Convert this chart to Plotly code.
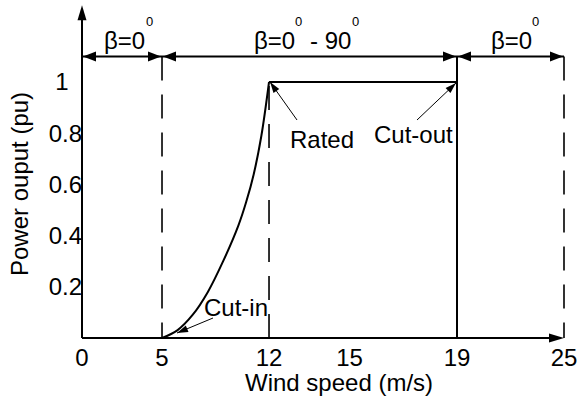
import numpy as np
import plotly.graph_objects as go

# ---------------- data ----------------
# Power curve of the turbine (pu) against wind speed (m/s)
WIND_SPEED = [5, 6, 7, 8, 9, 10, 10.5, 11, 11.5, 12, 19, 19]
POWER_PU = [0, 0.03, 0.09, 0.18, 0.30, 0.44, 0.53, 0.64, 0.79, 1, 1, 0]

CUT_IN, RATED, CUT_OUT, MAX_SPEED = 5, 12, 19, 25

X_TICKS = [0, 5, 12, 15, 19, 25]
Y_TICKS = [0.2, 0.4, 0.6, 0.8, 1]

# pitch-angle regions along the top of the chart
REGION_BOUNDS = [(0, 5), (5, 19), (19, 25)]
REGION_LABELS = [
    [("β=0", False), ("0", True)],
    [("β=0", False), ("0", True), ("- 90", False), ("0", True)],
    [("β=0", False), ("0", True)],
]

# ---------------- schematic (non-uniform) wind-speed axis ----------------
SPEED_KNOTS = [0, 5, 12, 19, 25]
AXIS_KNOTS = [0, 4.15, 9.70, 19.45, 25]


def to_axis(v):
    return np.interp(v, SPEED_KNOTS, AXIS_KNOTS)


# ---------------- page geometry ----------------
W, H = 579, 402
ML, MR, MT, MB = 30, 8, 0, 40
ORIGIN_PX = (82, 338)            # where (0 m/s, 0 pu) sits on the page
PX_PER_U = 482 / 25
PX_PER_PU = 256.0
PLOT_W, PLOT_H = W - ML - MR, H - MT - MB

x_lo = -(ORIGIN_PX[0] - ML) / PX_PER_U
x_hi = x_lo + PLOT_W / PX_PER_U
y_lo = -(H - MB - ORIGIN_PX[1]) / PX_PER_PU
y_hi = y_lo + PLOT_H / PX_PER_PU


def paper_x(px):
    return (px - ML) / PLOT_W


def paper_y(py):
    return (H - MB - py) / PLOT_H


DIM_LEVEL = 1.10      # height of the pitch-region dimension arrows (pu)
Y_ARROW_TOP = 1.30    # tip of the power axis arrow (pu)

FONT = "Liberation Sans, Arial, sans-serif"
INK = "black"

fig = go.Figure()

# power curve: ramp between cut-in and rated, then flat until cut-out
ramp_end = WIND_SPEED.index(RATED) + 1
fig.add_trace(go.Scatter(
    x=to_axis(WIND_SPEED[:ramp_end]), y=POWER_PU[:ramp_end],
    mode="lines", line=dict(color=INK, width=2, shape="spline", smoothing=1),
    hoverinfo="skip", showlegend=False))
fig.add_trace(go.Scatter(
    x=to_axis(WIND_SPEED[ramp_end - 1:]), y=POWER_PU[ramp_end - 1:],
    mode="lines", line=dict(color=INK, width=2),
    hoverinfo="skip", showlegend=False))

shapes = []
annotations = []


def head(xa, ya, ang_deg, L, Wd, ox=0.0, oy=0.0):
    """Filled triangular arrow head, sized in pixels, tip at (ox, oy) from the anchor."""
    a = np.radians(ang_deg)
    d = np.array([np.cos(a), np.sin(a)])
    n = np.array([-d[1], d[0]])
    tip = np.array([ox, oy])
    base = tip - L * d
    p1, p2 = base + Wd / 2 * n, base - Wd / 2 * n
    path = (f"M{tip[0]:.2f},{tip[1]:.2f} L{p1[0]:.2f},{p1[1]:.2f} "
            f"L{p2[0]:.2f},{p2[1]:.2f} Z")
    return dict(type="path", xref="x", yref="y", xsizemode="pixel",
                ysizemode="pixel", xanchor=xa, yanchor=ya, path=path,
                fillcolor=INK, line=dict(width=0), layer="above")


def seg(x0, y0, x1, y1, width=2, dash=None):
    return dict(type="line", xref="x", yref="y", x0=x0, y0=y0, x1=x1, y1=y1,
                line=dict(color=INK, width=width, dash=dash), layer="above")


def pointer(xa, ya, tip, tail, L=11, Wd=7):
    """Thin leader arrow, offsets in pixels (y upward) from a data anchor."""
    ang = np.degrees(np.arctan2(tip[1] - tail[1], tip[0] - tail[0]))
    shapes.append(dict(type="line", xref="x", yref="y", xsizemode="pixel",
                       ysizemode="pixel", xanchor=xa, yanchor=ya,
                       x0=tail[0], y0=tail[1], x1=tip[0], y1=tip[1],
                       line=dict(color=INK, width=1), layer="above"))
    shapes.append(head(xa, ya, ang, L, Wd, tip[0], tip[1]))


# axes drawn as arrows
x_end = float(to_axis(MAX_SPEED))
shapes.append(seg(0, 0, x_end - 6 / PX_PER_U, 0))
shapes.append(head(x_end, 0, 0, 15, 9))
shapes.append(seg(0, 0, 0, Y_ARROW_TOP - 6 / PX_PER_PU))
shapes.append(head(0, Y_ARROW_TOP, 90, 15, 9))

# region boundaries
DASH = "24px,14px"
shapes.append(seg(to_axis(CUT_IN), DIM_LEVEL, to_axis(CUT_IN), 0, 1.6, DASH))
shapes.append(seg(to_axis(RATED), 0, to_axis(RATED), 1, 1.6, DASH))
shapes.append(seg(to_axis(CUT_OUT), DIM_LEVEL, to_axis(CUT_OUT), 1, 2))
shapes.append(seg(to_axis(MAX_SPEED), DIM_LEVEL, to_axis(MAX_SPEED), 0, 1.6, DASH))

# pitch-region dimension arrows and their labels
CHAR_EM = {"β": 0.569, "=": 0.584, "-": 0.333, " ": 0.278}
BASE_SIZE, SUP_SIZE = 24, 13
LABEL_NUDGE = [6, -4, 4]


def text_width(s, size):
    return sum(CHAR_EM.get(c, 0.556) for c in s) * size


for (a, b), pieces, nudge in zip(REGION_BOUNDS, REGION_LABELS, LABEL_NUDGE):
    xa, xb = float(to_axis(a)), float(to_axis(b))
    shapes.append(seg(xa, DIM_LEVEL, xb, DIM_LEVEL))
    shapes.append(head(xa, DIM_LEVEL, 180, 13, 10, ox=1))
    shapes.append(head(xb, DIM_LEVEL, 0, 13, 10, ox=-1))

    widths = [text_width(t, SUP_SIZE if sup else BASE_SIZE) + (1 if sup else 0)
              for t, sup in pieces]
    # a space separates a superscript from following base text
    gaps = [0.278 * BASE_SIZE if (i > 0 and pieces[i - 1][1] and not sup) else 0
            for i, (t, sup) in enumerate(pieces)]
    total = sum(widths) + sum(gaps)
    cursor = -total / 2 + nudge
    xm = (xa + xb) / 2
    for (t, sup), w, g in zip(pieces, widths, gaps):
        cursor += g
        annotations.append(dict(
            x=xm, y=DIM_LEVEL, xref="x", yref="y", text=t, showarrow=False,
            xanchor="left", yanchor="middle", borderpad=0,
            xshift=cursor + (0.5 if sup else 0), yshift=35 if sup else 16,
            font=dict(family=FONT, size=SUP_SIZE if sup else BASE_SIZE, color=INK)))
        cursor += w

# callouts
for label, (sx, sy), (tx, ty), (xs, ys) in [
    ("Rated", (RATED, 1), (53, -57), ((1, 0), (28, -38))),
    ("Cut-out", (CUT_OUT, 1), (-44, -52), ((-1, -1), (-40, -38))),
    ("Cut-in", (CUT_IN, 0), (74, 31), ((15, 5), (51, 20))),
]:
    ax_ = float(to_axis(sx))
    annotations.append(dict(
        x=ax_, y=sy, xref="x", yref="y", text=label, showarrow=False,
        xanchor="center", yanchor="middle", xshift=tx, yshift=ty,
        font=dict(family=FONT, size=24, color=INK)))
    pointer(ax_, sy, xs, ys)

# axis titles
annotations.append(dict(
    x=paper_x(339), y=paper_y(382), xref="paper", yref="paper",
    text="Wind speed (m/s)", showarrow=False, xanchor="center", yanchor="middle",
    font=dict(family=FONT, size=24, color=INK)))
annotations.append(dict(
    x=paper_x(19), y=paper_y(184), xref="paper", yref="paper",
    text="Power ouput (pu)", showarrow=False, textangle=-90,
    xanchor="center", yanchor="middle",
    font=dict(family=FONT, size=24, color=INK)))


def y_label(v):
    s = f"{v:g}"
    # pad whole numbers so they sit centred over the decimal labels
    return s + "\u2007" if "." not in s else s


fig.update_layout(
    width=W, height=H, margin=dict(l=ML, r=MR, t=MT, b=MB),
    paper_bgcolor="white", plot_bgcolor="white",
    showlegend=False, shapes=shapes, annotations=annotations,
    xaxis=dict(range=[x_lo, x_hi], tickvals=[float(to_axis(v)) for v in X_TICKS],
               ticktext=[str(v) for v in X_TICKS], showgrid=False, zeroline=False,
               showline=False, ticks="", anchor="free", position=paper_y(ORIGIN_PX[1]),
               ticklabelstandoff=3,
               tickfont=dict(family=FONT, size=24, color=INK), fixedrange=True),
    yaxis=dict(range=[y_lo, y_hi], tickvals=Y_TICKS,
               ticktext=[y_label(v) for v in Y_TICKS], showgrid=False, zeroline=False,
               showline=False, ticks="", anchor="free", position=paper_x(ORIGIN_PX[0]),
               tickfont=dict(family=FONT, size=24, color=INK), fixedrange=True),
)

fig.write_html("out.html")
